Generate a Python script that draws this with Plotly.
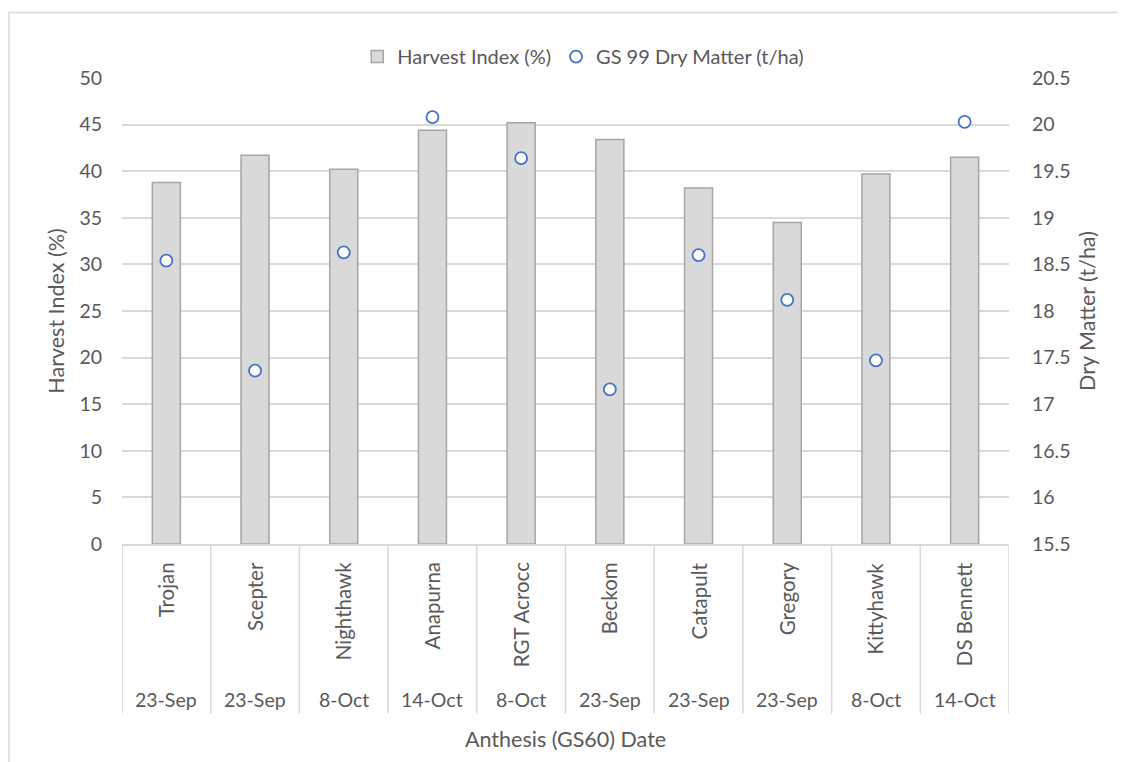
import plotly.graph_objects as go

varieties = ["Trojan", "Scepter", "Nighthawk", "Anapurna", "RGT Acrocc",
             "Beckom", "Catapult", "Gregory", "Kittyhawk", "DS Bennett"]
anthesis_dates = ["23-Sep", "23-Sep", "8-Oct", "14-Oct", "8-Oct",
                  "23-Sep", "23-Sep", "23-Sep", "8-Oct", "14-Oct"]
harvest_index = [38.8, 41.7, 40.2, 44.4, 45.2, 43.4, 38.2, 34.5, 39.7, 41.5]
dry_matter = [18.54, 17.36, 18.63, 20.08, 19.64, 17.16, 18.60, 18.12, 17.47, 20.03]

left_ticks = list(range(0, 51, 5))
right_ticks = [15.5 + 0.5 * i for i in range(11)]
right_labels = [("%g" % v) for v in right_ticks]

FONT = "Lato"
TXT = "#595959"
GRID = "#d9d9d9"

fig = go.Figure()
fig.add_trace(go.Bar(
    x=varieties, y=harvest_index, name="Harvest Index (%)",
    marker=dict(color="#d9d9d9", line=dict(color="#a6a6a6", width=1.5)),
    yaxis="y",
))
fig.add_trace(go.Scatter(
    x=varieties, y=dry_matter, name="GS 99 Dry Matter (t/ha)", mode="markers",
    marker=dict(symbol="circle", size=12, color="white",
                line=dict(color="#4472c4", width=1.8)),
    yaxis="y2",
))

annotations = []
shapes = []
n = len(varieties)
for v, d in zip(varieties, anthesis_dates):
    annotations.append(dict(x=v, xref="x", y=-0.0354, yref="paper", text=v,
                            textangle=-90, showarrow=False, yanchor="top",
                            xanchor="center", font=dict(family=FONT, size=20.5, color=TXT)))
    annotations.append(dict(x=v, xref="x", y=-0.3337, yref="paper", text=d,
                            showarrow=False, yanchor="middle", xanchor="center",
                            font=dict(family=FONT, size=19.5, color=TXT)))
for i in range(n + 1):
    shapes.append(dict(type="line", xref="x", yref="paper", x0=i - 0.5, x1=i - 0.5,
                       y0=0, y1=-0.3637, line=dict(color=GRID, width=1.5)))

annotations.append(dict(x=0.5, xref="paper", y=-0.4174, yref="paper",
                        text="Anthesis (GS60) Date", showarrow=False,
                        yanchor="middle", xanchor="center",
                        font=dict(family=FONT, size=21.5, color=TXT)))

# outer chart border
shapes.append(dict(type="rect", xref="paper", yref="paper", x0=-0.1274, x1=1.2,
                   y0=-0.6, y1=1.1406, line=dict(color=GRID, width=1.5),
                   fillcolor="rgba(0,0,0,0)", layer="below"))

fig.update_layout(
    width=1118, height=754,
    margin=dict(l=114, r=117, t=70, b=218),
    paper_bgcolor="white", plot_bgcolor="white",
    bargap=0.684,
    showlegend=True,
    legend=dict(orientation="h", x=0.52, xanchor="center", y=1.046, yanchor="middle",
                font=dict(family=FONT, size=20, color=TXT), itemwidth=30,
                tracegroupgap=0),
    font=dict(family=FONT, color=TXT),
    xaxis=dict(type="category", showticklabels=False, showline=True,
               linecolor=GRID, linewidth=1.5, ticks="", showgrid=False,
               range=[-0.5, n - 0.5], zeroline=False),
    yaxis=dict(range=[0, 50], tickvals=left_ticks, showgrid=True, gridcolor=GRID,
               gridwidth=1.5, zeroline=False, showline=False,
               tickfont=dict(family=FONT, size=19.5, color=TXT), ticklabelstandoff=19,
               title=dict(text="Harvest Index (%)", font=dict(family=FONT, size=21.5, color=TXT),
                          standoff=8)),
    yaxis2=dict(range=[15.5, 20.5], tickvals=right_ticks, ticktext=right_labels,
                overlaying="y", side="right", showgrid=False, zeroline=False,
                showline=False, tickfont=dict(family=FONT, size=19.5, color=TXT),
                ticklabelstandoff=22,
                title=dict(text="Dry Matter (t/ha)", font=dict(family=FONT, size=21.5, color=TXT),
                           standoff=10)),
    annotations=annotations,
    shapes=shapes,
)

fig.write_html("out.html")
